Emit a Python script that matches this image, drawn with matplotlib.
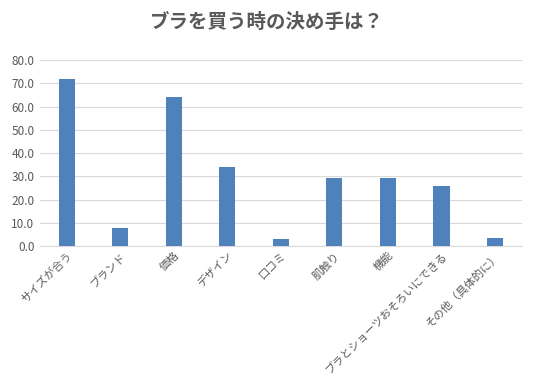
import matplotlib
matplotlib.use("Agg")
import matplotlib.pyplot as plt
import numpy as np

plt.rcParams["font.family"] = ["Noto Sans CJK JP", "DejaVu Sans"]

categories = ["サイズが合う", "ブランド", "価格", "デザイン", "口コミ",
              "肌触り", "機能", "ブラとショーツおそろいにできる", "その他（具体的に）"]
values = [71.8, 7.8, 64.1, 34.0, 3.0, 29.3, 29.3, 25.8, 3.5]
yticks = [0, 10, 20, 30, 40, 50, 60, 70, 80]

fig = plt.figure(figsize=(5.33, 3.78), dpi=100)
ax = fig.add_axes([0.075, 0.349, 0.904, 0.492])

x = np.arange(len(categories))
ax.bar(x, values, width=0.3, color="#4f81bd", zorder=3)

ax.set_xlim(-0.5, len(categories) - 0.5)
ax.set_ylim(0, 80)
ax.set_yticks(yticks)
ax.set_yticklabels([f"{v:.1f}" for v in yticks], fontsize=8.5, color="#595959")
ax.yaxis.grid(True, color="#d9d9d9", linewidth=0.8, zorder=0)
ax.set_xticks(x)
ax.set_xticklabels(categories, rotation=45, ha="right", rotation_mode="anchor",
                   fontsize=8, color="#595959")
ax.tick_params(axis="both", length=0, pad=4)
ax.tick_params(axis="x", pad=3)
for side in ["top", "right", "left"]:
    ax.spines[side].set_visible(False)
ax.spines["bottom"].set_color("#d9d9d9")

fig.text(0.5, 0.94, "ブラを買う時の決め手は？", ha="center", va="center",
         fontsize=14, fontweight="bold", color="#595959")

fig.savefig("out.png", dpi=100)
